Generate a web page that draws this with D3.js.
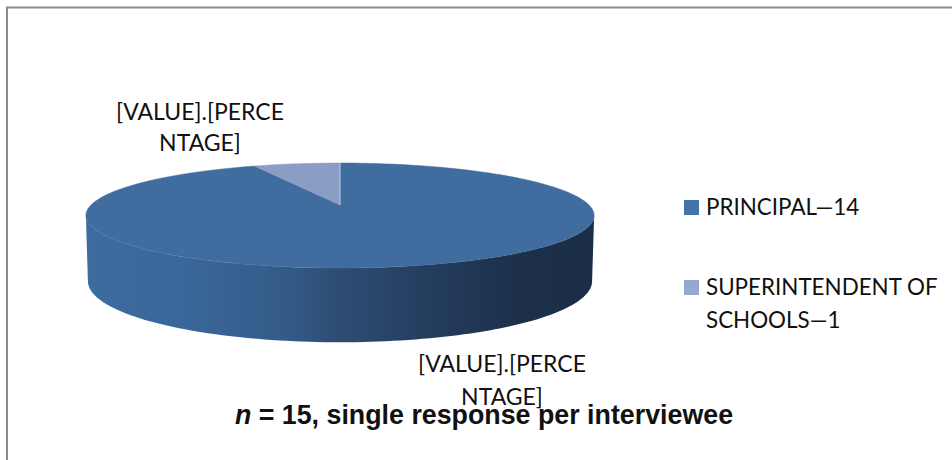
<!DOCTYPE html>
<html lang="en">
<head>
<meta charset="UTF-8">
<title>interviewees</title>
<script src="https://d3js.org/d3.v7.min.js"></script>
<style>
	html, body { margin: 0; background: #fff; }
	svg { display: block; }
	.lbl { font-family: Lato, sans-serif; font-size: 23px; fill: #111; text-anchor: middle; }
	.leg { font-family: Lato, sans-serif; font-size: 22.4px; fill: #111; }
	.note { font-family: "Liberation Sans", Arial, sans-serif; font-size: 26.8px; font-weight: bold; fill: #111; text-anchor: middle; }
</style>
</head>
<body>
<div id="viz"></div>
<script>
	var categories = ['PRINCIPAL', 'SUPERINTENDENT OF SCHOOLS'];
	var values = [14, 1];
	var legendLines = [['PRINCIPAL\u201414'], ['SUPERINTENDENT OF', 'SCHOOLS\u20141']];
	var sliceColors = ['#416c9f', '#8a9dc5'];
	var legendColors = ['#4573a7', '#95a9d0'];
	var labelLines = ['[VALUE].[PERCE', 'NTAGE]'];
	var noteText = ', single response per interviewee';

	var width = 952, height = 460;
	var k = 0.2;
	var topPlane = {cx: 340, cy: 205, a: 249, b: 50.4};
	var basePlane = {cx: 340, cy: 269, a: 247, b: 58.6};

	var svg = d3.select('#viz').append('svg')
		.attr('width', width)
		.attr('height', height);

	// frame, only top and left are drawn in the picture
	svg.append('path')
		.attr('d', d3.line()([[7, height], [7, 7.5], [width, 7.5]]))
		.attr('fill', 'none')
		.attr('stroke', '#8c8c8c')
		.attr('stroke-width', 2);

	// tilted disc: unit circle through a perspective map, so the centre sits above the ellipse middle
	function project(angle, plane) {
		var u = Math.sin(angle), v = Math.cos(angle), w = 1 + k * v;
		return [plane.cx + plane.a * u / w, plane.cy - plane.b * v / w];
	}

	function arcPoints(start, end, plane) {
		var n = Math.max(2, Math.ceil(Math.abs(end - start) * 40));
		return d3.range(n + 1).map(function (i) {
			return project(start + (end - start) * i / n, plane);
		});
	}

	var line = d3.line();
	var slices = d3.pie().sort(null)(values);

	var grad = svg.append('defs').append('linearGradient')
		.attr('id', 'side')
		.attr('gradientUnits', 'userSpaceOnUse')
		.attr('x1', 86).attr('x2', 594)
		.attr('y1', 0).attr('y2', 0);
	[[0, '#3d6c9f'], [0.2, '#3a6699'], [0.4, '#335a88'], [0.5, '#2e4c73'], [0.7, '#233b5c'], [0.85, '#1c304a'], [1, '#1b2e47']].forEach(function (s) {
		grad.append('stop').attr('offset', s[0]).attr('stop-color', s[1]);
	});

	// side wall: front part of the rim joined to the base rim
	var rimStart = Math.PI / 2 + Math.asin(k), rimEnd = 3 * Math.PI / 2 - Math.asin(k);
	var wall = arcPoints(rimStart, rimEnd, topPlane).concat(arcPoints(rimEnd, rimStart, basePlane));
	svg.append('path')
		.attr('d', line(wall) + 'Z')
		.attr('fill', 'url(#side)');

	svg.selectAll('path.slice')
		.data(slices)
		.enter().append('path')
		.attr('class', 'slice')
		.attr('d', function (d) {
			return line([[topPlane.cx, topPlane.cy]].concat(arcPoints(d.startAngle, d.endAngle, topPlane))) + 'Z';
		})
		.attr('fill', function (d, i) { return sliceColors[i]; })
		.attr('stroke', function (d, i) { return sliceColors[i]; })
		.attr('stroke-width', 0.5);

	// pale edge where the small slice meets the big one
	svg.append('path')
		.attr('d', line([[topPlane.cx, topPlane.cy], project(0, topPlane)]))
		.attr('stroke', '#b5c6e4')
		.attr('stroke-width', 1);

	// labels
	function block(x, y, lines, cls, step) {
		var t = svg.append('text').attr('class', cls);
		lines.forEach(function (s, i) {
			t.append('tspan').attr('x', x).attr('y', y + i * step).text(s);
		});
	}
	block(200, 120, labelLines, 'lbl', 31);
	block(502, 372, labelLines, 'lbl', 33);

	var legendY = [200, 280];
	legendLines.forEach(function (lines, i) {
		svg.append('rect')
			.attr('x', 684).attr('y', legendY[i])
			.attr('width', 15).attr('height', 15)
			.attr('fill', legendColors[i]);
		block(706, legendY[i] + 15, lines, 'leg', 33);
	});

	var note = svg.append('text').attr('class', 'note').attr('x', 484).attr('y', 424);
	note.append('tspan').attr('font-style', 'italic').text('n');
	note.append('tspan').text(' = ' + d3.sum(values) + noteText);
</script>
</body>
</html>
